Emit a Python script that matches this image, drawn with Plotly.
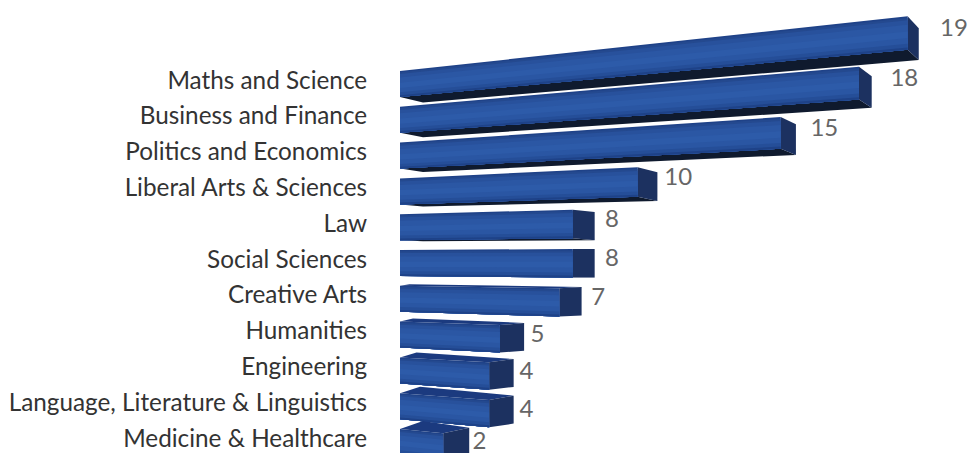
import plotly.graph_objects as go

categories = ["Maths and Science", "Business and Finance", "Politics and Economics",
              "Liberal Arts &amp; Sciences", "Law", "Social Sciences", "Creative Arts",
              "Humanities", "Engineering", "Language, Literature &amp; Linguistics",
              "Medicine &amp; Healthcare"]
value_labels = [19, 18, 15, 10, 8, 8, 7, 5, 4, 4, 2]
# drawn length of each bar (the perspective shortens the lower bars)
bar_length = [18.8, 17.0, 14.1, 8.8, 6.4, 6.4, 5.9, 3.7, 3.3, 3.3, 1.6]

PX_X = 27.0
PX_Y = 35.8
W, H = 968, 453
LEFT = 400
TOP_RANK = -80 / PX_Y
VP_X, VP_Y = -65.0, 5.03
TOP_OFF, THICK = -9 / PX_Y, 26 / PX_Y

STRIPS = [(0.00, "#1f4288"), (0.05, "#24498f"), (0.12, "#28519c"), (0.25, "#2b57a4"),
          (0.45, "#2d5ba9"), (0.65, "#2a56a3"), (0.82, "#254e98"), (0.93, "#1e4288")]
SIDE, UNDER, TOPF = "#1c3160", "#0f1a2e", "#1b3a7f"


def conv(y_left, x):
    return y_left + (VP_Y - y_left) * (x / VP_X)


def poly(fig, xs, ys, color):
    fig.add_trace(go.Scatter(x=xs + xs[:1], y=ys + ys[:1], mode="lines", fill="toself",
                             fillcolor=color, line=dict(width=0), hoverinfo="skip",
                             showlegend=False))


fig = go.Figure()
label_x, label_y = [], []
for r, L in enumerate(bar_length):
    yt, yb = r + TOP_OFF, r + TOP_OFF + THICK
    side_w = (27.4 - 0.864 * L) / PX_X
    d = r - 5
    dy_top = (-2.4 * d if d < 0 else -1.08 * d) / PX_Y
    dy_bot = dy_top * 0.85
    ft, fb = conv(yt, L), conv(yb, L)
    st, sb = ft + dy_top, fb + dy_bot

    if d < 0:  # underside visible
        poly(fig, [0, 23 / PX_X, L + side_w, L],
             [yb, yb + (-d * 1.1) / PX_Y, sb, fb], UNDER)
    if d > 0:  # top face visible
        poly(fig, [0, min(23, 6 + 3.5 * d) / PX_X, L + side_w, L],
             [yt, yt - 1.6 * d / PX_Y, st, ft], TOPF)
    poly(fig, [L, L + side_w, L + side_w, L], [ft, st, sb, fb], SIDE)
    for f, col in STRIPS:
        y0 = yt + (yb - yt) * f
        poly(fig, [0, L, L, 0], [y0, conv(y0, L), fb, yb], col)
    label_x.append(L + side_w + (8 + 1.45 * L) / PX_X)
    label_y.append((ft + fb) / 2 - 3 / PX_Y)

fig.add_trace(go.Scatter(x=label_x, y=label_y, mode="text",
                         text=[str(v) for v in value_labels],
                         textposition="middle center", hoverinfo="skip", showlegend=False,
                         textfont=dict(family="Lato", size=24, color="#666666")))

fig.update_layout(
    width=W, height=H, margin=dict(l=LEFT, r=0, t=0, b=0, pad=0),
    paper_bgcolor="white", plot_bgcolor="white", autosize=False,
    xaxis=dict(range=[0, (W - LEFT) / PX_X], visible=False, fixedrange=True),
    yaxis=dict(range=[(H - 80) / PX_Y, TOP_RANK], tickmode="array",
               tickvals=list(range(len(categories))), ticktext=categories,
               showgrid=False, zeroline=False, showline=False, ticks="outside",
               ticklen=27, tickcolor="rgba(0,0,0,0)", fixedrange=True,
               tickfont=dict(family="Lato", size=24.3, color="#333333")),
)
fig.write_html("out.html", config={"displayModeBar": False},
               post_script="document.body.style.margin='0';document.body.style.overflow='hidden';")
